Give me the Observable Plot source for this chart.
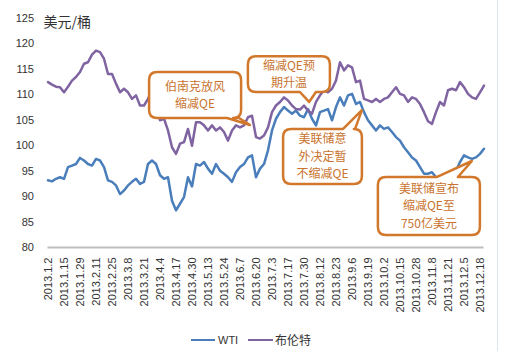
<!DOCTYPE html>
<html>
<head>
<meta charset="utf-8">
<script src="https://cdn.jsdelivr.net/npm/d3@7"></script>
<script src="https://cdn.jsdelivr.net/npm/@observablehq/plot@0.6"></script>
<style>
  html, body { margin: 0; padding: 0; background: white; }
  #wrap { position: relative; width: 523px; height: 351px; overflow: hidden; background: white; }
  #legend { position: absolute; left: 0; top: 331px; width: 523px; height: 18px; font-family: "Liberation Sans", Arial, sans-serif; color: #333; }
  .sw { position: absolute; top: 8px; height: 0; border-top: 2.5px solid; }
  .lt { position: absolute; top: 0; line-height: 18px; }
  #edge { position: absolute; left: 497px; top: 0; width: 1px; height: 351px; background: #DDE6EE; }
</style>
</head>
<body>
<div id="wrap">
  <div id="chart"></div>
  <div id="legend">
    <div class="sw" style="left:191px;width:24px;border-color:#4A7EBB"></div>
    <div class="lt" style="left:218px;font-size:11px">WTI</div>
    <div class="sw" style="left:248px;width:25px;border-color:#8064A2"></div>
    <div class="lt" style="left:275px;font-size:12px;font-family:'Noto Sans CJK SC',sans-serif">布伦特</div>
  </div>
  <div id="edge"></div>
</div>
<script>
// Tick labels (one every 4 samples)
const labels = ["2013.1.2","2013.1.15","2013.1.29","2013.2.11","2013.2.25","2013.3.8","2013.3.21","2013.4.4","2013.4.17","2013.4.30","2013.5.13","2013.5.24","2013.6.7","2013.6.20","2013.7.3","2013.7.17","2013.7.30","2013.8.12","2013.8.23","2013.9.6","2013.9.19","2013.10.2","2013.10.15","2013.10.28","2013.11.8","2013.11.21","2013.12.5","2013.12.18"];
const samplesPerLabel = 4;

// WTI (USD/barrel)
const wti = [93.2,93.0,93.5,93.8,93.5,95.8,96.1,96.4,97.6,97.1,
96.4,96.1,97.4,97.1,95.8,93.2,92.9,92.2,90.5,91.2,
92.2,92.9,93.5,92.5,92.9,96.4,97.1,96.4,94.2,93.5,
93.8,89.2,87.3,88.6,89.9,93.8,92.0,96.4,96.1,96.8,
95.5,94.5,96.4,95.1,94.5,93.8,92.9,94.8,95.8,96.4,
97.7,98.1,93.8,95.5,96.4,99.1,103.0,105.3,106.6,107.6,
106.9,106.3,106.9,105.9,105.6,107.2,105.3,104.0,106.6,106.9,
107.2,105.0,107.6,109.5,107.9,109.9,110.2,108.2,108.6,106.6,
105.0,104.0,103.0,104.0,103.3,103.6,102.7,101.7,101.0,99.7,
98.7,97.7,97.1,95.8,94.5,94.5,94.8,93.8,93.5,94.2,
93.8,94.5,95.1,96.8,98.1,97.7,97.4,97.7,98.4,99.4];

// Brent (USD/barrel)
const brent = [112.5,112.0,111.6,111.5,110.5,111.6,112.8,113.5,114.5,116.1,
116.4,117.9,118.7,118.4,117.1,114.1,114.1,112.2,110.5,111.2,
110.5,109.2,109.9,107.9,107.9,109.2,111.0,109.5,105.0,105.3,
103.0,99.7,98.4,100.4,100.7,103.3,100.0,104.6,104.6,104.0,
103.0,104.0,103.0,103.6,102.7,101.0,103.0,104.0,103.6,104.0,
105.6,105.9,101.7,101.4,102.0,103.6,106.6,107.9,108.6,109.5,
108.9,107.9,107.2,107.1,107.9,106.9,106.3,108.6,109.9,110.9,
110.5,111.2,112.8,116.4,114.8,115.8,115.4,112.5,112.8,109.2,
108.9,108.6,109.2,108.6,109.2,109.5,110.5,111.5,110.2,109.9,
108.6,109.5,109.2,108.2,106.6,104.8,104.3,106.6,108.6,107.9,
110.9,111.2,110.9,112.5,111.5,110.2,109.5,109.2,110.5,111.8];

const yTicks = [80,85,90,95,100,105,110,115,120,125];
const unitLabel = "美元/桶";

// Annotation callouts (box / pointer in data units: sample index, USD)
const callouts = [
  {lines: ["伯南克放风","缩减QE"], box: [25.4, 48.4, 114.4, 105.35], side: "bottom", base: [44.9, 47.9], tip: [50.6, 103.97]},
  {lines: ["缩减QE预","期升温"], box: [50.1, 70.6, 117.5, 110.46], side: "bottom", base: [63.1, 67.1], tip: [65.4, 108.5]},
  {lines: ["美联储意","外决定暂","不缩减QE"], box: [58.9, 78.6, 103.2, 92.4], side: "top", base: [73.9, 76.9], tip: [78.6, 106.9]},
  {lines: ["美联储宣布","缩减QE至","750亿美元"], box: [82.6, 108.1, 93.76, 82.36], side: "top", base: [97.4, 102.6], tip: [106.1, 96.9]}
];

const wtiRows = wti.map((v, i) => ({i, v}));
const brentRows = brent.map((v, i) => ({i, v}));
const tickIdx = labels.map((_, j) => j * samplesPerLabel);

function calloutMark(c) {
  return (index, scales) => {
    const x = scales.x, y = scales.y;
    const g = d3.create("svg:g");
    const X1 = x(c.box[0]), X2 = x(c.box[1]), Y1 = y(c.box[2]), Y2 = y(c.box[3]);
    const TX = x(c.tip[0]), TY = y(c.tip[1]);
    const BA = x(c.base[0]), BB = x(c.base[1]);
    const r = 8;
    let p = `M${X1 + r},${Y1}`;
    if (c.side === "top") p += `H${BA}L${TX},${TY}L${BB},${Y1}`;
    p += `H${X2 - r}Q${X2},${Y1} ${X2},${Y1 + r}V${Y2 - r}Q${X2},${Y2} ${X2 - r},${Y2}`;
    if (c.side === "bottom") p += `H${BB}L${TX},${TY}L${BA},${Y2}`;
    p += `H${X1 + r}Q${X1},${Y2} ${X1},${Y2 - r}V${Y1 + r}Q${X1},${Y1} ${X1 + r},${Y1}Z`;
    g.append("path").attr("d", p).attr("fill", "white").attr("stroke", "#D2782C")
      .attr("stroke-width", 2.5).attr("stroke-linejoin", "round");
    const cx = (X1 + X2) / 2, cy = (Y1 + Y2) / 2, lh = 17.5, n = c.lines.length;
    const t = g.append("text").attr("text-anchor", "middle")
      .attr("font-family", "'Noto Sans CJK SC', sans-serif").attr("font-size", "12px")
      .attr("fill", "#C9732E");
    c.lines.forEach((line, j) => {
      t.append("tspan").attr("x", cx).attr("y", cy + (j - (n - 1) / 2) * lh + 4.5).text(line);
    });
    return g.node();
  };
}

const chart = Plot.plot({
  width: 523,
  height: 320,
  marginLeft: 47.5,
  marginRight: 39.5,
  marginTop: 18,
  marginBottom: 73,
  style: {fontFamily: "'Liberation Sans', Arial, sans-serif", fontSize: "11px", color: "#333", background: "white"},
  x: {domain: [0, wti.length - 1]},
  y: {domain: [80, 125]},
  marks: [
    Plot.axisY({ticks: yTicks, tickSize: 0, tickPadding: 14, label: null, fontSize: 11}),
    Plot.axisX({ticks: tickIdx, tickFormat: i => labels[i / samplesPerLabel], tickRotate: -90, tickSize: 0, tickPadding: 10, label: null, fontSize: 11}),
    Plot.ruleY([80], {stroke: "#BDBDBD", strokeWidth: 2}),
    Plot.line(wtiRows, {x: "i", y: "v", stroke: "#4A7EBB", strokeWidth: 2.5, strokeLinejoin: "round"}),
    Plot.line(brentRows, {x: "i", y: "v", stroke: "#8064A2", strokeWidth: 2.5, strokeLinejoin: "round"}),
    Plot.text([unitLabel], {frameAnchor: "top-left", dx: -4.5, dy: 4, textAnchor: "start", lineAnchor: "middle", fontSize: 14, fill: "#333", fontFamily: "'Noto Sans CJK SC', sans-serif"}),
    ...callouts.map(calloutMark)
  ]
});
document.getElementById("chart").appendChild(chart);
</script>
</body>
</html>
